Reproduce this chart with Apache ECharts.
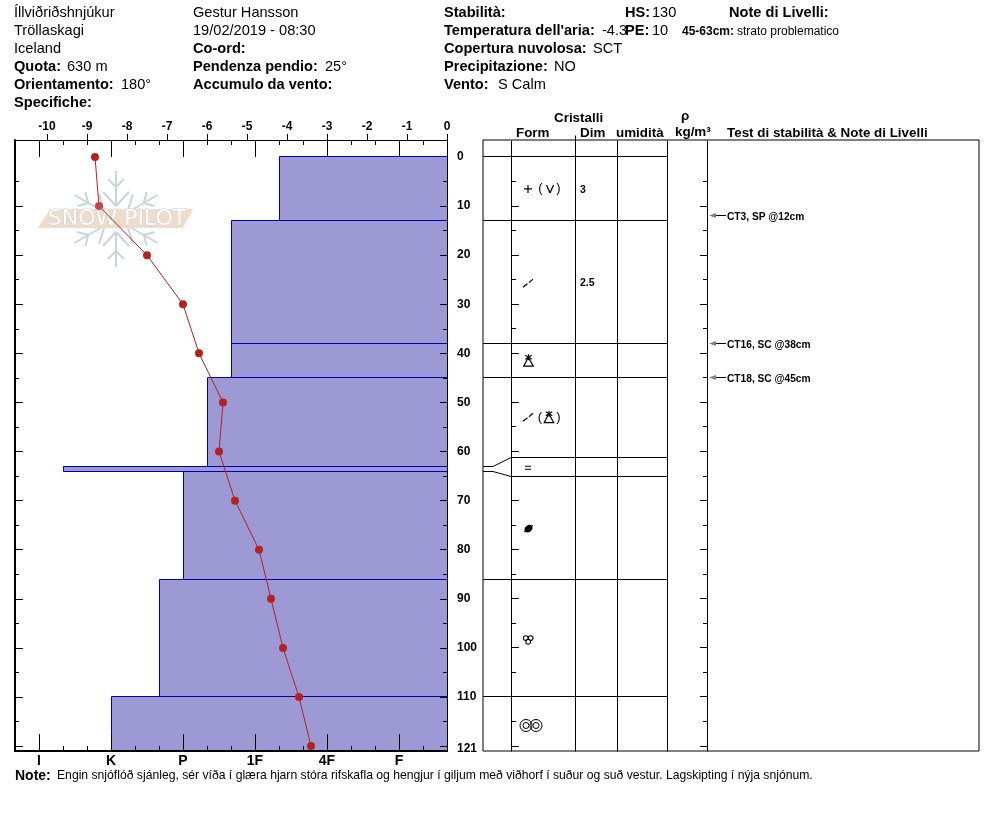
<!DOCTYPE html>
<html><head><meta charset="utf-8">
<style>html,body{margin:0;padding:0;background:#fff}#c{width:994px;height:840px}</style>
<script src="https://cdn.jsdelivr.net/npm/echarts@6/dist/echarts.min.js"></script>
</head><body><div id="c"></div>
<script>
// ---- data ----
const tempDepths = [0,10,20,30,40,50,60,70,80,90,100,110,120];
const tempValues = [-8.8,-8.7,-7.5,-6.6,-6.2,-5.6,-5.7,-5.3,-4.7,-4.4,-4.1,-3.7,-3.4];
const layerTops = [0,13,38,45,63,64,86,110];
const layerBottoms = [13,38,45,63,64,86,110,121];
const layerHardness = [10,8,8,7,1,6,5,3];
const hardnessTicks = [0,3,6,9,12,15];
const hardnessLabels = ['I','K','P','1F','4F','F'];
const hardnessMinor = [1,2,4,5,7,8,10,11,13,14,16];
const tempTicks = [-10,-9,-8,-7,-6,-5,-4,-3,-2,-1,0];
const depthLabels = [0,10,20,30,40,50,60,70,80,90,100,110,121];
const depthMajor = [10,20,30,40,50,60,70,80,90,100,110,120];
const depthMinor = [5,15,25,35,45,55,65,75,85,95,105,115];
const fullLines = [0,13,38,45,86,110];
const shiftedLines = [61.3,65];
const shiftPairs = [[63,61.3],[64,65]];
const formDepths = [6.5,25.5,41.5,53,63.2,75.5,98,115.5];
const formKinds = ['plusV','slash','facet','slashFacet','equal','grain','clover','rings'];
const sizeDepths = [6.5,25.5];
const sizeLabels = ['3','2.5'];
const testDepths = [12,38,45];
const testLabels = ['CT3, SP @12cm','CT16, SC @38cm','CT18, SC @45cm'];
const headLines = [
 ['Íllviðriðshnjúkur',14,12,0],['Tröllaskagi',14,30,0],['Iceland',14,48,0],
 ['Quota:',14,66,1],['630 m',67,66,0],['Orientamento:',14,84,1],['180°',121,84,0],['Specifiche:',14,102,1],
 ['Gestur Hansson',193,12,0],['19/02/2019 - 08:30',193,30,0],['Co-ord:',193,48,1],
 ['Pendenza pendio:',193,66,1],['25°',325,66,0],['Accumulo da vento:',193,84,1],
 ['Stabilità:',444,12,1],['Temperatura dell\'aria:',444,30,1],['-4.3',602,30,0],
 ['Copertura nuvolosa:',444,48,1],['SCT',593,48,0],['Precipitazione:',444,66,1],['NO',554,66,0],
 ['Vento:',444,84,1],['S Calm',498,84,0],['HS:',625,12,1],['130',652,12,0],
 ['PE:',625,30,1],['10',652,30,0],['Note di Livelli:',729,12,1]
];
const smallLines = [['45-63cm:',682,31,1],['strato problematico',737,31,0]];
const columnHeads = [
 ['Cristalli',554,117],['Form',516,132],['Dim',580,132],['umidità',616,132],['ρ',681,115],
 ['kg/m³',675,131],['Test di stabilità & Note di Livelli',727,132]
];
const noteLabel = 'Note:';
const noteText = 'Engin snjóflóð sjánleg, sér víða í glæra hjarn stóra rifskafla og hengjur í giljum með viðhorf í suður og suð vestur. Lagskipting í nýja snjónum.';

// ---- layout ----
const FONT = '"Liberation Sans", Arial, sans-serif';
const DMIN = -3.46, DMAX = 121;
const COLS = [511,575,617,667,707];
const TL = 483, TR = 979, TM = 667;
const TY = 1; // text baseline nudge
const chart = echarts.init(document.getElementById('c'), null, {renderer:'canvas', width:994, height:840});
const px = v => Math.floor(v) + 0.5;
const BLK = {stroke:'#000', lineWidth:1, fill:null};

function hideAxis(o){ return Object.assign({type:'value', axisLine:{show:false,onZero:false}, splitLine:{show:false}, axisLabel:{show:false}, axisTick:{show:false}, z:3}, o); }
function tickAxis(pos, min, max, vals, len, extra){
  return hideAxis(Object.assign({position:pos, min, max, axisTick:{show:true, inside:true, length:len, customValues:vals, lineStyle:{color:'#000', width:1}}}, extra||{}));
}
const lineBlk = w => ({show:true, onZero:false, lineStyle:{color:'#000', width:w}});

const xAxes = [
  hideAxis({gridIndex:0, position:'top', min:-10.8, max:0, axisLine:lineBlk(1),
    axisTick:{show:true, inside:false, length:6, customValues:tempTicks, lineStyle:{color:'#000'}},
    axisLabel:{show:true, customValues:tempTicks, margin:7, fontFamily:FONT, fontWeight:'bold', fontSize:12, color:'#000', showMinLabel:true, showMaxLabel:true}}),
  tickAxis('top',-1,17,hardnessTicks,17),
  tickAxis('top',-1,17,hardnessMinor,5),
  tickAxis('bottom',-1,17,hardnessTicks,17,{axisLine:lineBlk(2),
    axisLabel:{show:true, customValues:hardnessTicks, margin:3, fontFamily:FONT, fontWeight:'bold', fontSize:14, color:'#000', formatter:v=>hardnessLabels[hardnessTicks.indexOf(v)]||''}}),
  tickAxis('bottom',-1,17,hardnessMinor,5),
  hideAxis({gridIndex:1, min:TL, max:TR, show:false})
];
const depthShared = {inverse:true};
const yAxes = [
  tickAxis('right',DMIN,DMAX,depthMajor,7,Object.assign({axisLine:lineBlk(1),
    axisLabel:{show:true, customValues:depthLabels.map(v=>v===121?120.6:v), margin:10, padding:[2,0,0,0], align:'left', fontFamily:FONT, fontWeight:'bold', fontSize:12, color:'#000', formatter:v=>String(Math.ceil(v))}},depthShared)),
  tickAxis('right',DMIN,DMAX,depthMinor,4,depthShared),
  tickAxis('left',DMIN,DMAX,depthMajor,8,Object.assign({axisLine:lineBlk(2)},depthShared)),
  tickAxis('left',DMIN,DMAX,depthMinor,4,depthShared),
  hideAxis({gridIndex:1, min:DMIN, max:DMAX, inverse:true, show:false})
];
xAxes.forEach((a,i)=>{ if(a.gridIndex===undefined) a.gridIndex=0; });
yAxes.forEach((a,i)=>{ if(a.gridIndex===undefined) a.gridIndex=0; });

function seg(x1,y1,x2,y2,style){ return {type:'line', shape:{x1,y1,x2,y2}, style:Object.assign({},BLK,style||{})}; }

// layers
const layerSeries = {
  type:'custom', xAxisIndex:1, yAxisIndex:0, z:2, silent:true, clip:false,
  data: layerTops.map((t,i)=>[layerHardness[i],t,layerBottoms[i]]),
  renderItem:(p,api)=>{
    const a = api.coord([api.value(0),api.value(1)]), b = api.coord([17,api.value(2)]);
    const x=px(a[0]), y=px(a[1]), x2=Math.floor(b[0])+0.5, y2=px(b[1]);
    return {type:'rect', shape:{x,y,width:x2-x,height:y2-y}, style:{fill:'#9c99d4', stroke:'#0000a8', lineWidth:1}};
  }
};
// temperature
const tempSeries = {
  type:'line', xAxisIndex:0, yAxisIndex:0, z:4, silent:true, symbol:'circle', symbolSize:8, showSymbol:true,
  lineStyle:{color:'#b22222', width:1}, itemStyle:{color:'#b22222'},
  data: tempValues.map((v,i)=> i===1 ? {value:[v,tempDepths[i]], itemStyle:{color:'#c0484a'}} : [v,tempDepths[i]])
};
// table frame, layer lines
const tableDepth = (api,d)=>px(api.coord([TL,d])[1]);
const tableFrame = {
  type:'custom', xAxisIndex:5, yAxisIndex:4, z:2, silent:true, clip:false, data:[[TL,0]],
  renderItem:(p,api)=>{
    const ch=[];
    const top=tableDepth(api,DMIN), bot=tableDepth(api,DMAX);
    COLS.forEach(c=>ch.push(seg(c+.5,top,c+.5,bot)));
    ch.push(seg(COLS[1]+.5,top-5,COLS[1]+.5,top));
    fullLines.forEach(d=>{const y=tableDepth(api,d); ch.push(seg(TL,y,TM,y));});
    shiftedLines.forEach(d=>{const y=tableDepth(api,d); ch.push(seg(COLS[0],y,TM,y));});
    shiftPairs.forEach(pr=>{
      const y1=tableDepth(api,pr[0]), y2=tableDepth(api,pr[1]);
      ch.push({type:'polyline',shape:{points:[[TL,y1],[493,y1],[COLS[0],y2]]},style:Object.assign({},BLK)});
    });
    depthMajor.forEach(d=>{const y=tableDepth(api,d); ch.push(seg(511.5,y,519,y)); ch.push(seg(700,y,707.5,y));});
    depthMinor.forEach(d=>{const y=tableDepth(api,d); ch.push(seg(511.5,y,516,y)); ch.push(seg(703,y,707.5,y));});
    return {type:'group',children:ch};
  }
};
// forms
const SYM = {stroke:'#000', lineWidth:1.2, fill:null};
function ltext(x,y,t,size,weight,extra){ return {type:'text',style:Object.assign({x,y,text:t,fontFamily:FONT,fontSize:size,fontWeight:weight||'normal',fill:'#000',textAlign:'left',textVerticalAlign:'middle'},extra||{})}; }
function facet(cx,cy){ return [
  {type:'polyline',shape:{points:[[cx-.2,cy-3.5],[cx+4.8,cy+5.5],[cx-4.8,cy+5.5],[cx-.2,cy-3.5]]},style:Object.assign({},SYM)},
  seg(cx,cy-6.5,cx,cy-.5,SYM),seg(cx-3.2,cy-5.5,cx+3.2,cy-1.5,SYM),seg(cx+3.2,cy-5.5,cx-3.2,cy-1.5,SYM)]; }
function slash(cx,cy){ return [seg(cx-5,cy+4,cx-.5,cy+.5,SYM),seg(cx+1,cy-.5,cx+5,cy-4,SYM)]; }
function paren(x,y,t){ return ltext(x,y,t,13,'normal',{textAlign:'center'}); }
const formMakers = {
  plusV:(y)=>[seg(524,y,532,y,SYM),seg(528,y-4,528,y+4,SYM),paren(540.5,y,'('),seg(546.5,y-4,550,y+4,SYM),seg(550,y+4,553.5,y-4,SYM),paren(558.5,y,')')],
  slash:(y)=>slash(528,y+1),
  facet:(y)=>facet(528.5,y),
  slashFacet:(y)=>slash(528,y).concat([paren(540,y,'('),paren(558.5,y,')')],facet(549,y)),
  equal:(y)=>[seg(525,y-1,531,y-1),seg(525,y+2,531,y+2)],
  grain:(y)=>[{type:'ellipse',shape:{cx:0,cy:0,rx:4.4,ry:3.4},x:528.5,y:y+1,rotation:Math.PI/5,style:{fill:'#000'}},seg(524,y+4.5,533,y-2.5)],
  clover:(y)=>[[525.8,y],[530.6,y],[528.2,y+3.7]].map(c=>({type:'circle',shape:{cx:c[0],cy:c[1],r:2.4},style:{stroke:'#000',fill:'#fff',lineWidth:1.1}})),
  rings:(y)=>[[526,y+1.5],[536,y+1.5]].flatMap(c=>[{type:'circle',shape:{cx:c[0],cy:c[1],r:6},style:{stroke:'#000',fill:null,lineWidth:1}},{type:'circle',shape:{cx:c[0],cy:c[1],r:3},style:{stroke:'#000',fill:null,lineWidth:1}}])
};
const formSeries = {
  type:'custom', xAxisIndex:5, yAxisIndex:4, z:3, silent:true, clip:false,
  data: formDepths.map(d=>[528,d]),
  renderItem:(p,api)=>({type:'group',children:formMakers[formKinds[p.dataIndex]](api.coord([528,api.value(1)])[1])})
};
const sizeSeries = {
  type:'custom', xAxisIndex:5, yAxisIndex:4, z:3, silent:true, clip:false,
  data: sizeDepths.map(d=>[580,d]),
  renderItem:(p,api)=>{const c=api.coord([580,api.value(1)]); return ltext(c[0],c[1]+TY,sizeLabels[p.dataIndex],10.5,'bold');}
};
const testSeries = {
  type:'custom', xAxisIndex:5, yAxisIndex:4, z:3, silent:true, clip:false,
  data: testDepths.map(d=>[727,d]),
  renderItem:(p,api)=>{
    const c=api.coord([727,api.value(1)]), y=px(c[1]);
    return {type:'group',children:[
      seg(715,y,726,y),
      {type:'polygon',shape:{points:[[709,y],[716,y-2.5],[716,y+2.5]]},style:{fill:'#808080'}},
      ltext(727,y+.5+TY,testLabels[p.dataIndex],10.2,'bold')
    ]};
  }
};

// texts + watermark
const gfx = [];
headLines.forEach(h=>gfx.push({type:'text',x:h[1],y:h[2]+TY,style:{text:h[0],fontFamily:FONT,fontSize:14.6,fontWeight:h[3]?'bold':'normal',fill:'#000',textVerticalAlign:'middle'}}));
smallLines.forEach(h=>gfx.push({type:'text',x:h[1],y:h[2]+TY,style:{text:h[0],fontFamily:FONT,fontSize:12,fontWeight:h[3]?'bold':'normal',fill:'#000',textVerticalAlign:'middle'}}));
columnHeads.forEach(h=>gfx.push({type:'text',x:h[1],y:h[2]+TY,style:{text:h[0],fontFamily:FONT,fontSize:13.4,fontWeight:'bold',fill:'#000',textVerticalAlign:'middle'}}));
gfx.push({type:'text',x:15,y:775+TY,style:{text:noteLabel,fontFamily:FONT,fontSize:14,fontWeight:'bold',fill:'#000',textVerticalAlign:'middle'}});
gfx.push({type:'text',x:57,y:775+TY,style:{text:noteText,fontFamily:FONT,fontSize:12.18,fill:'#000',textVerticalAlign:'middle'}});
// snowflake watermark
const SC='#c9d5dc', CX=116, CY=219;
const flake=[];
for(let i=0;i<6;i++){
  const rot=i*Math.PI/3;
  const ls=[[0,-13,0,-48],[0,-13,-13,-27],[0,-13,13,-27],[0,-32,-8,-40],[0,-32,8,-40]];
  ls.forEach(l=>flake.push({type:'line',shape:{x1:l[0],y1:l[1],x2:l[2],y2:l[3]},rotation:-rot,style:{stroke:SC,lineWidth:2}}));
}
gfx.push({type:'group',x:CX,y:CY,z:1,silent:true,children:flake});
gfx.push({type:'polygon',z:1,silent:true,shape:{points:[[50,209],[193,209],[183,228],[38,228]]},style:{fill:'#efdccb'}});
gfx.push({type:'text',x:117,y:219,z:1,silent:true,style:{text:'SNOW PILOT',fontFamily:'"DejaVu Sans", sans-serif',fontSize:22,fontWeight:'normal',fill:'#fff',stroke:'#c6ccd2',lineWidth:.8,textAlign:'center',textVerticalAlign:'middle'}});

chart.setOption({
  animation:false,
  backgroundColor:'#fff',
  grid:[
    {left:15, top:140, width:432, height:611, containLabel:false},
    {left:TL, top:140, width:TR-TL, height:611, show:true, borderColor:'#000', borderWidth:1, backgroundColor:'transparent'}
  ],
  xAxis:xAxes, yAxis:yAxes,
  series:[layerSeries,tempSeries,tableFrame,formSeries,sizeSeries,testSeries],
  graphic:{elements:gfx}
});
</script></body></html>
